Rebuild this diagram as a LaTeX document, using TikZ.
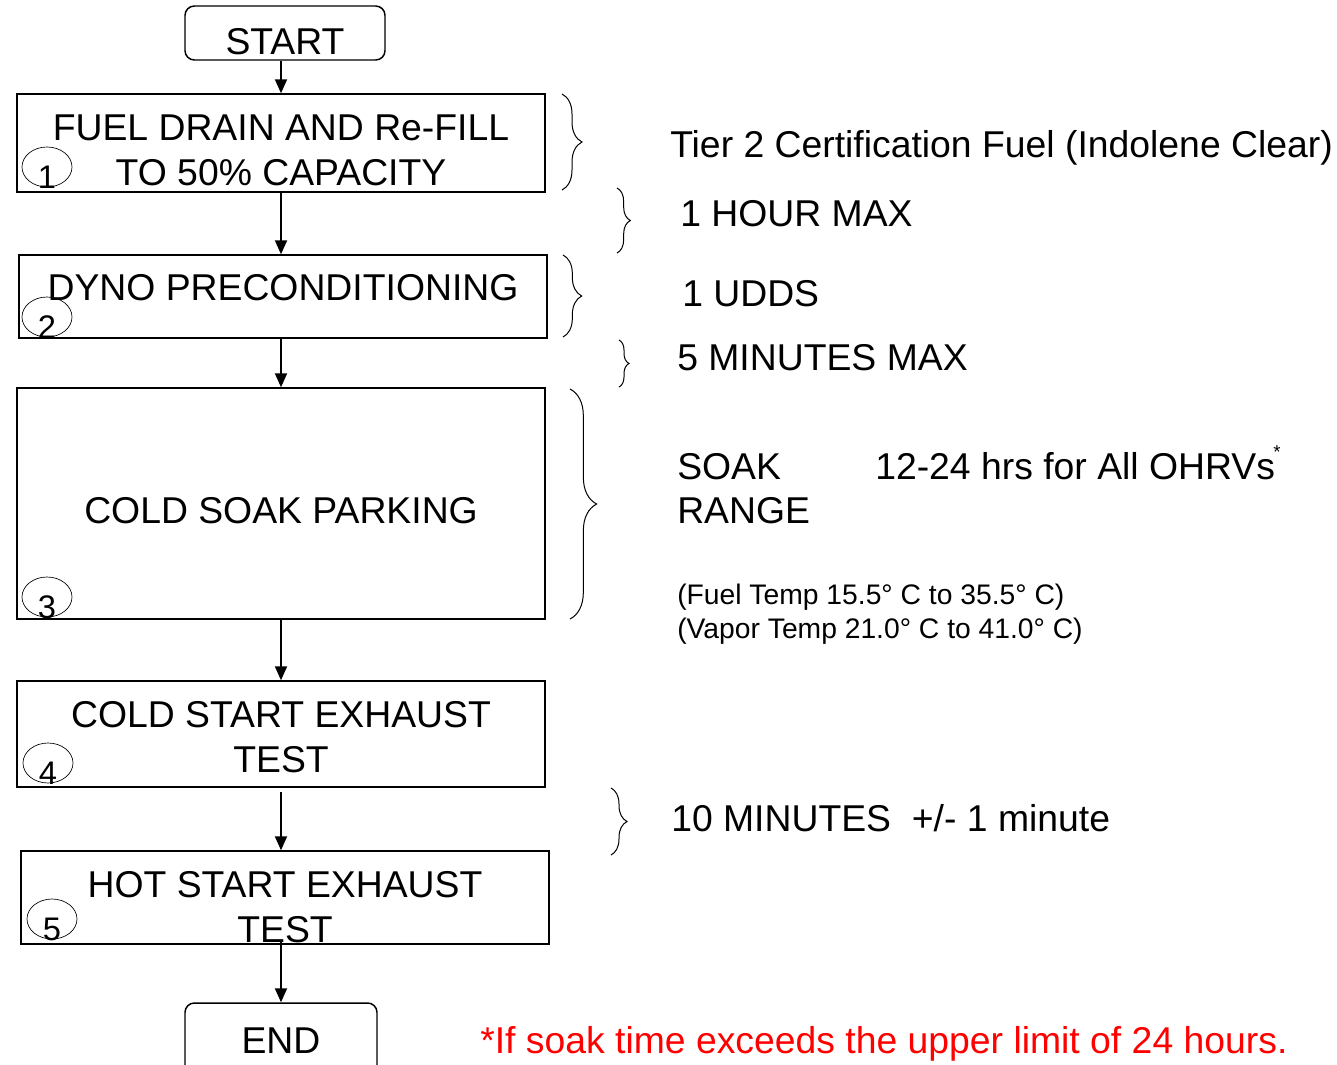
\documentclass[tikz,border=0pt]{standalone}
\usepackage{fontspec}
\setmainfont{Liberation Sans}
\usetikzlibrary{arrows.meta,shapes.geometric,decorations.pathreplacing}
\tikzset{
  box/.style={draw, line width=1.1pt, inner sep=0pt, minimum width=396pt},
  term/.style={draw, line width=1.1pt, rounded corners=7pt, inner sep=0pt},
  numcirc/.style={draw, ellipse, line width=0.5pt, inner sep=0pt, minimum width=37.5pt, minimum height=30pt},
  big/.style={font=\fontsize{28}{31}\selectfont, inner sep=0pt, anchor=base},
  bigw/.style={big, anchor=base west},
  small/.style={font=\fontsize{21.2}{24}\selectfont, inner sep=0pt, anchor=base west},
  digit/.style={font=\fontsize{24.5}{26}\selectfont, inner sep=0pt, anchor=base},
  arr/.style={-{Triangle[length=10.5pt,width=9pt]}, line width=1.5pt},
  bracefig/.style={decorate, line width=0.75pt, decoration={brace, amplitude=#1}}
}
\begin{document}
\begin{tikzpicture}[x=0.75pt,y=-0.75pt]
\clip (0,0) rectangle (1337,1064);
% boxes
\node[term, minimum width=150pt, minimum height=40.5pt] (start) at (285,33) {};
\node[box, minimum height=73.5pt] (b1) at (281,143) {};
\node[box, minimum height=62.25pt] (b2) at (283,296.5) {};
\node[box, minimum height=173.25pt] (b3) at (281,503.5) {};
\node[box, minimum height=79.5pt] (b4) at (281,734) {};
\node[box, minimum height=69.75pt] (b5) at (285,897.5) {};
\node[term, minimum width=144pt, minimum height=54pt] (end) at (281,1039) {};
% box texts
\node[big] (tstart) at (285,54) {START};
\node[big] (t1a) at (281,140) {FUEL DRAIN AND Re-FILL};
\node[big] (t1b) at (281,185) {TO 50\% CAPACITY};
\node[big] (t2) at (283,300) {DYNO PRECONDITIONING};
\node[big] (t3) at (281,523) {COLD SOAK PARKING};
\node[big] (t4a) at (281,727) {COLD START EXHAUST};
\node[big] (t4b) at (281,772) {TEST};
\node[big] (t5a) at (285,897) {HOT START EXHAUST};
\node[big] (t5b) at (285,942) {TEST};
\node[big] (tend) at (281,1053) {END};
% numbered circles
\node[numcirc] (c1) at (47,167) {};
\node[digit] (d1) at (47,188) {1};
\node[numcirc] (c2) at (47,317) {};
\node[digit] (d2) at (47,338) {2};
\node[numcirc] (c3) at (47,597) {};
\node[digit] (d3) at (47,618) {3};
\node[numcirc] (c4) at (48,763) {};
\node[digit] (d4) at (48,784) {4};
\node[numcirc] (c5) at (52,919) {};
\node[digit] (d5) at (52,940) {5};
% arrows
\draw[arr] (start.south -| b1.north) -- (b1.north);
\draw[arr] (b1.south) -- (b1.south |- b2.north);
\draw[arr] (b2.south -| b1.south) -- (b3.north);
\draw[arr] (b3.south) -- (b4.north);
\draw[arr] ([yshift=-3.5pt]b4.south) -- (b4.south |- b5.north);
\draw[arr] ([yshift=3pt]b5.south -| end.north) -- (end.north);
% braces
\draw[bracefig=15pt] (562,94) -- (562,190);
\draw[bracefig=10pt] (617,188) -- (617,253);
\draw[bracefig=14pt] (563,255) -- (563,337);
\draw[bracefig=7.5pt] (619,340) -- (619,387);
\draw[bracefig=20pt] (570,389) -- (570,619);
\draw[bracefig=12pt] (611,788) -- (611,855);
% right-side texts
\node[bigw] (r1) at (670,157) {Tier 2 Certification Fuel (Indolene Clear)};
\node[bigw] (r2) at (680,226) {1 HOUR MAX};
\node[bigw] (r3) at (682,306) {1 UDDS};
\node[bigw] (r4) at (677,370) {5 MINUTES MAX};
\node[bigw] (r5a) at (677,479) {SOAK};
\node[bigw] (r5b) at (875,479) {12-24 hrs for All OHRVs};
\node[font=\fontsize{14}{16}\selectfont, inner sep=0pt, anchor=base west] (star) at (1273,458) {*};
\node[bigw] (r5c) at (677,523) {RANGE};
\node[small] (r6) at (677,604) {(Fuel Temp 15.5° C to 35.5° C)};
\node[small] (r7) at (677,638) {(Vapor Temp 21.0° C to 41.0° C)};
\node[bigw] (r8) at (671,831) {10 MINUTES\ \ +/- 1 minute};
\node[bigw, text=red] (note) at (480,1053) {*If soak time exceeds the upper limit of 24 hours.};
\end{tikzpicture}
\end{document}
